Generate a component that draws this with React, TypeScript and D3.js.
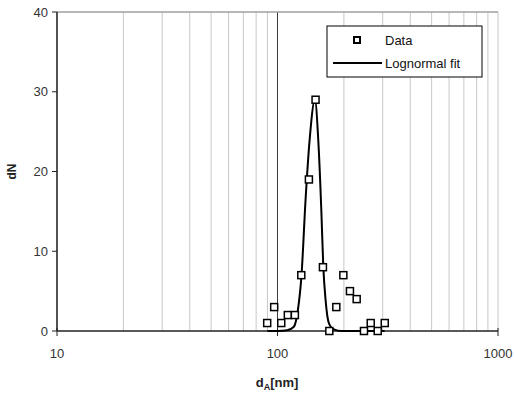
import React from 'react';
import * as d3 from 'd3';

// measured particle size distribution
const dataDiameters = [89.8, 96.6, 104, 111.4, 119.9, 128.2, 138.8, 148.8, 160.7, 171.8, 184.8, 198.9, 213.1, 228.6, 246.7, 264.7, 284.8, 306.5];
const dataCounts = [1, 3, 1, 2, 2, 7, 19, 29, 8, 0, 3, 7, 5, 4, 0, 1, 0, 1];

// lognormal fit curve
const fitDiameters = [90, 100, 105, 110.7, 118.6, 123.7, 128.5, 134, 139.8, 147.8, 153.1, 158, 161.3, 165.2, 171.1, 180.3, 195, 250, 306];
const fitCounts = [0, 0, 0.02, 0.1, 0.54, 2.6, 7, 16.4, 23.9, 29, 23.9, 15.2, 8.1, 3.9, 0.97, 0.2, 0, 0, 0];

const xTicks = [10, 100, 1000];
const yTicks = [0, 10, 20, 30, 40];

const W = 514;
const H = 396;
const margin = { top: 12, right: 16, bottom: 65, left: 57 };
const font = 'Arial, "Liberation Sans", sans-serif';

export default function App() {
  const x = d3.scaleLog().domain([10, 1000]).range([margin.left, W - margin.right]);
  const y = d3.scaleLinear().domain([0, 40]).range([H - margin.bottom, margin.top]);

  const gridVals: number[] = [];
  for (const dec of [10, 100]) for (let k = 1; k <= 9; k++) gridVals.push(dec * k);
  gridVals.push(1000);

  const line = d3
    .line<number>()
    .x((_d, i) => x(fitDiameters[i]))
    .y(d => y(d))
    .curve(d3.curveMonotoneX);

  const x0 = x(10), x1 = x(1000), y0 = y(0), y1 = y(40);
  const sq = 7;

  return (
    <svg width={W} height={H} style={{ position: 'fixed', left: 0, top: 0, background: '#fff' }} fontFamily={font}>
      {/* vertical grid */}
      {gridVals.map(v => (
        <line key={v} x1={x(v)} x2={x(v)} y1={y1} y2={y0}
          stroke={v === 100 ? '#3a3a3a' : '#c8c8c8'} strokeWidth={1} />
      ))}
      <line x1={x0} x2={x1} y1={y1} y2={y1} stroke="#a0a0a0" strokeWidth={1.5} />

      {/* axes */}
      <line x1={x0} x2={x0} y1={y1} y2={y0} stroke="#222" strokeWidth={1.5} />
      <line x1={x0} x2={x1} y1={y0} y2={y0} stroke="#222" strokeWidth={1.5} />
      {yTicks.map(t => (
        <g key={t}>
          <line x1={x0 - 5} x2={x0} y1={y(t)} y2={y(t)} stroke="#222" />
          <text x={x0 - 9} y={y(t)} dy="0.35em" textAnchor="end" fontSize={13} fill="#333">{t}</text>
        </g>
      ))}
      {xTicks.map(t => (
        <g key={t}>
          <line x1={x(t)} x2={x(t)} y1={y0 - 3} y2={y0 + 5} stroke="#222" />
          <text x={x(t)} y={y0 + 27} textAnchor="middle" fontSize={13} fill="#333">{t}</text>
        </g>
      ))}

      {/* fit */}
      <path d={line(fitCounts) || ''} fill="none" stroke="#000" strokeWidth={2} />

      {/* data */}
      {dataCounts.map((c, i) => (
        <rect key={i} x={x(dataDiameters[i]) - sq / 2} y={y(c) - sq / 2} width={sq} height={sq}
          fill="#fff" stroke="#000" strokeWidth={1.5} />
      ))}

      {/* legend */}
      <rect x={327} y={26} width={155} height={51} fill="#fff" stroke="#000" strokeWidth={1} />
      <rect x={354} y={37} width={6} height={6} fill="#fff" stroke="#000" strokeWidth={2} />
      <text x={385} y={45} fontSize={13} fill="#111">Data</text>
      <line x1={333} x2={382} y1={63} y2={63} stroke="#000" strokeWidth={2} />
      <text x={385} y={68} fontSize={13} fill="#111">Lognormal fit</text>

      {/* axis titles */}
      <text x={277} y={387} textAnchor="middle" fontSize={13} fontWeight="bold" fill="#222">
        d<tspan fontSize={9} dy={3}>A</tspan><tspan dy={-3}>[nm]</tspan>
      </text>
      <text transform={`translate(16,${(y0 + y1) / 2}) rotate(-90)`} textAnchor="middle" fontSize={12} fontWeight="bold" fill="#222">dN</text>
    </svg>
  );
}
